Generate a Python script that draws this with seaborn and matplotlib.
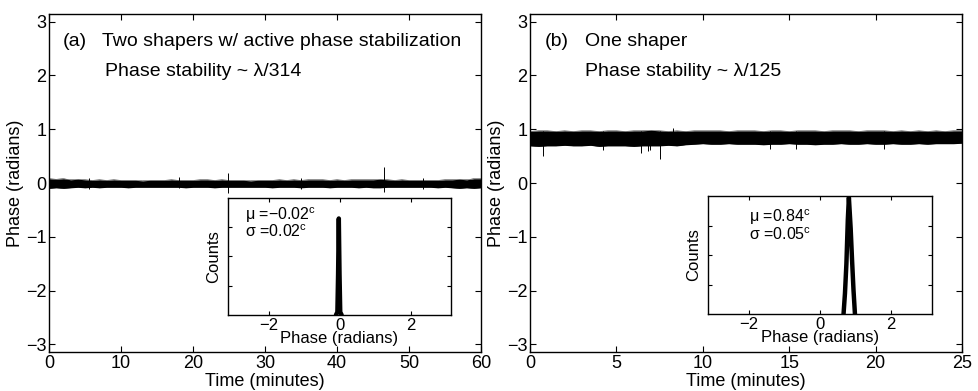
import numpy as np
import pandas as pd
import matplotlib
matplotlib.use("Agg")
import matplotlib.pyplot as plt
import seaborn as sns

# ---------------- data ----------------
# Panel (a): envelope of the phase trace, one sample per minute (0..60 min)
upper_a = [0.08, 0.07, 0.08, 0.06, 0.07, 0.06,
           0.05, 0.06, 0.05, 0.06, 0.05,
           0.05, 0.05, 0.04, 0.05, 0.05,
           0.05, 0.06, 0.05, 0.05, 0.05,
           0.06, 0.06, 0.05, 0.06, 0.05,
           0.05, 0.05, 0.04, 0.05, 0.05,
           0.05, 0.06, 0.05, 0.06, 0.05,
           0.06, 0.06, 0.06, 0.05, 0.06,
           0.05, 0.06, 0.06, 0.06, 0.06,
           0.07, 0.06, 0.05, 0.06, 0.05,
           0.05, 0.05, 0.05, 0.05, 0.06,
           0.06, 0.07, 0.06, 0.08, 0.08]
lower_a = [-0.10, -0.09, -0.10, -0.09, -0.08, -0.09,
           -0.08, -0.09, -0.08, -0.08, -0.08,
           -0.09, -0.08, -0.08, -0.08, -0.08,
           -0.08, -0.08, -0.08, -0.09, -0.08,
           -0.08, -0.08, -0.09, -0.08, -0.08,
           -0.08, -0.08, -0.08, -0.08, -0.08,
           -0.09, -0.08, -0.08, -0.08, -0.09,
           -0.08, -0.08, -0.08, -0.09, -0.08,
           -0.08, -0.08, -0.09, -0.08, -0.09,
           -0.09, -0.08, -0.08, -0.08, -0.08,
           -0.08, -0.08, -0.08, -0.09, -0.08,
           -0.09, -0.10, -0.09, -0.10, -0.09]
spike_t_a = [5.5, 18.0, 24.8, 35.0, 46.5, 52.0]
spike_lo_a = [-0.11, -0.10, -0.18, -0.12, -0.17, -0.11]
spike_hi_a = [0.10, 0.12, 0.18, 0.10, 0.29, 0.09]

# Panel (b): envelope, one sample per half minute (0..25 min)
upper_b = [0.96, 0.97, 0.97, 0.96, 0.97,
           0.96, 0.97, 0.97, 0.96, 0.97,
           0.97, 0.96, 0.97, 0.97, 0.98,
           0.97, 0.96, 0.97, 0.96, 0.97,
           0.97, 0.97, 0.97, 0.96, 0.97,
           0.97, 0.97, 0.96, 0.97, 0.97,
           0.96, 0.97, 0.97, 0.97, 0.96,
           0.97, 0.97, 0.97, 0.96, 0.97,
           0.97, 0.97, 0.96, 0.97, 0.96,
           0.97, 0.96, 0.97, 0.96, 0.97,
           0.97]
lower_b = [0.69, 0.68, 0.69, 0.69, 0.70,
           0.69, 0.69, 0.70, 0.68, 0.69,
           0.69, 0.69, 0.68, 0.69, 0.69,
           0.69, 0.70, 0.69, 0.71, 0.72,
           0.73, 0.72, 0.72, 0.73, 0.72,
           0.72, 0.72, 0.71, 0.72, 0.72,
           0.73, 0.72, 0.72, 0.71, 0.72,
           0.72, 0.73, 0.72, 0.72, 0.73,
           0.72, 0.72, 0.73, 0.72, 0.72,
           0.73, 0.72, 0.73, 0.73, 0.73,
           0.74]
spike_t_b = [0.75, 4.2, 6.4, 6.8, 6.95, 7.5, 8.3, 13.9, 15.4, 20.5]
spike_lo_b = [0.50, 0.62, 0.55, 0.60, 0.62, 0.45, 0.70, 0.64, 0.63, 0.64]
spike_hi_b = [0.97, 0.97, 0.97, 0.97, 0.97, 0.97, 1.03, 0.97, 0.97, 0.97]

# Histograms (insets)
hist_x_a = [-0.10, -0.06, -0.04, -0.02, 0.00, 0.02, 0.06]
hist_y_a = [0, 100, 1400, 3300, 1400, 100, 0]
hist_x_b = [0.66, 0.70, 0.74, 0.78, 0.81, 0.86, 0.90, 0.94, 0.98]
hist_y_b = [0, 700, 1700, 3200, 3950, 2900, 1800, 800, 0]

texts_a = ["(a)", "Two shapers w/ active phase stabilization", "Phase stability ~ λ/314"]
texts_b = ["(b)", "One shaper", "Phase stability ~ λ/125"]
stats_a = ["μ =−0.02", "σ =0.02"]
stats_b = ["μ =0.84", "σ =0.05"]

# ---------------- style ----------------
sns.set_theme(style="ticks")
plt.rcParams.update({
    "font.family": ["Liberation Sans", "DejaVu Sans"],
    "mathtext.fontset": "custom",
    "mathtext.rm": "Liberation Sans",
    "mathtext.it": "Liberation Sans:italic",
    "xtick.direction": "in",
    "ytick.direction": "in",
    "xtick.top": True,
    "ytick.right": True,
    "xtick.major.size": 4,
    "ytick.major.size": 4,
    "xtick.major.width": 0.8,
    "ytick.major.width": 0.8,
    "axes.linewidth": 1.0,
    "axes.edgecolor": "black",
    "xtick.color": "black",
    "ytick.color": "black",
    "text.color": "black",
    "axes.labelcolor": "black",
})

fig = plt.figure(figsize=(9.79, 3.91), dpi=100)
FS = 13      # axis labels / tick labels
FI = 12      # inset labels
FA = 14      # annotations
FST = 11.5   # inset statistics

main_pos = [[0.0501, 0.0997, 0.4413, 0.8645], [0.5414, 0.0997, 0.4413, 0.8645]]
inset_pos = [[0.2329, 0.1944, 0.2278, 0.2992], [0.7232, 0.1969, 0.2288, 0.3018]]


def draw_panel(mpos, ipos, tmax, xticks, upper, lower, st, slo, shi,
               hx, hy, texts, stats, text_x, stat_pos):
    ax = fig.add_axes(mpos)
    t = np.linspace(0, tmax, len(upper))
    df = pd.DataFrame({"t": np.concatenate([t, t]),
                       "phase": np.concatenate([upper, lower]),
                       "edge": ["upper"] * len(t) + ["lower"] * len(t)})
    ax.fill_between(t, lower, upper, color="black", lw=0)
    sns.lineplot(data=df, x="t", y="phase", units="edge", estimator=None,
                 color="black", lw=0.3, ax=ax, legend=False)
    ax.vlines(st, slo, shi, color="black", lw=0.7)
    ax.set_xlim(0, tmax)
    ax.set_ylim(-np.pi, np.pi)
    ax.set_xticks(xticks)
    ax.set_yticks([-3, -2, -1, 0, 1, 2, 3])
    ax.set_yticklabels(["−3", "−2", "−1", "0", "1", "2", "3"])
    ax.tick_params(labelsize=FS, pad=2)
    ax.set_xlabel("Time (minutes)", fontsize=FS, labelpad=1)
    ax.set_ylabel("Phase (radians)", fontsize=FS, labelpad=1)
    ax.text(text_x[0], 2.63, texts[0], fontsize=FA, ha="left", va="center")
    ax.text(text_x[1], 2.63, texts[1], fontsize=FA, ha="left", va="center")
    ax.text(text_x[2], 2.07, texts[2], fontsize=FA, ha="left", va="center")

    ia = fig.add_axes(ipos)
    hdf = pd.DataFrame({"x": hx, "y": hy})
    sns.lineplot(data=hdf, x="x", y="y", sort=False, estimator=None,
                 color="black", lw=3.2, ax=ia)
    ia.set_xlim(-np.pi, np.pi)
    ia.set_ylim(0, 4000)
    ia.set_xticks([-2, 0, 2])
    ia.set_xticklabels(["−2", "0", "2"])
    ia.set_yticks([1000, 2000, 3000])
    ia.set_yticklabels([])
    ia.tick_params(labelsize=FI, pad=2, length=3)
    ia.set_xlabel("Phase (radians)", fontsize=FI, labelpad=-1)
    ia.set_ylabel("Counts", fontsize=FI, labelpad=3)
    ia.text(stat_pos[0], stat_pos[1], stats[0] + r"$^{\rm c}$", fontsize=FST,
            ha="left", va="center", transform=ia.transData)
    ia.text(stat_pos[0], stat_pos[2], stats[1] + r"$^{\rm c}$", fontsize=FST,
            ha="left", va="center", transform=ia.transData)
    return ax, ia


draw_panel(main_pos[0], inset_pos[0], 60, [0, 10, 20, 30, 40, 50, 60],
           upper_a, lower_a, spike_t_a, spike_lo_a, spike_hi_a,
           hist_x_a, hist_y_a, texts_a, stats_a, [1.9, 7.4, 7.8],
           [-2.66, 0.85 * 4000, 0.71 * 4000])
draw_panel(main_pos[1], inset_pos[1], 25, [0, 5, 10, 15, 20, 25],
           upper_b, lower_b, spike_t_b, spike_lo_b, spike_hi_b,
           hist_x_b, hist_y_b, texts_b, stats_b, [0.85, 3.2, 3.2],
           [-2.0, 0.82 * 4000, 0.67 * 4000])

fig.savefig("out.png", dpi=100)
